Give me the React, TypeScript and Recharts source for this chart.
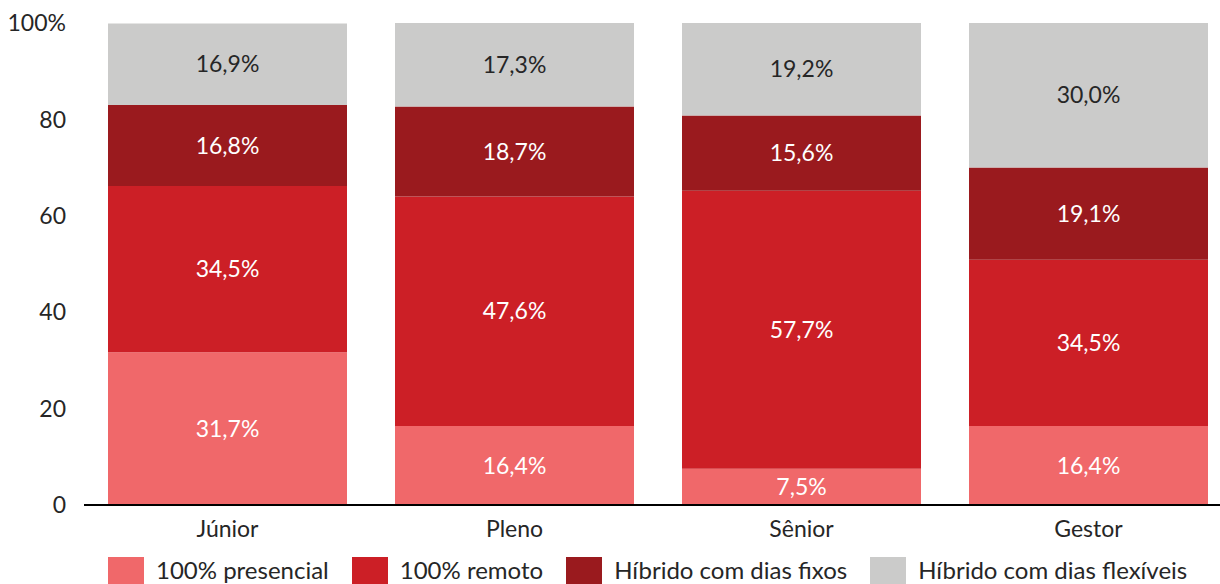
import { Bar, BarChart, LabelList, XAxis, YAxis } from "recharts";

const categories = ["Júnior", "Pleno", "Sênior", "Gestor"];
const presencial = [31.7, 16.4, 7.5, 16.4];
const remoto = [34.5, 47.6, 57.7, 34.5];
const fixos = [16.8, 18.7, 15.6, 19.1];
const flexiveis = [16.9, 17.3, 19.2, 30.0];
const yTicks = [0, 20, 40, 60, 80, 100];

const series = [
    { key: "presencial", name: "100% presencial", color: "#f0686a", text: "#ffffff" },
    { key: "remoto", name: "100% remoto", color: "#cc1f26", text: "#ffffff" },
    { key: "fixos", name: "Híbrido com dias fixos", color: "#9a1a1e", text: "#ffffff" },
    { key: "flexiveis", name: "Híbrido com dias flexíveis", color: "#cbcbca", text: "#262626" },
];

const data = categories.map((label, i) => ({
    label,
    presencial: presencial[i],
    remoto: remoto[i],
    fixos: fixos[i],
    flexiveis: flexiveis[i],
}));

const pct = (v: any) => `${Number(v).toFixed(1).replace(".", ",")}%`;

export default function App() {
    return (
        <div
            style={{
                position: "absolute",
                left: 0,
                top: 0,
                width: 1220,
                height: 584,
                overflow: "hidden",
                background: "#fff",
                fontFamily: "Lato, sans-serif",
            }}
        >
            <BarChart
                width={1232}
                height={584}
                data={data}
                margin={{ top: 23, right: 0, bottom: 39, left: 0 }}
                barCategoryGap={24}
            >
                <XAxis
                    dataKey="label"
                    height={40}
                    tickLine={false}
                    tickSize={0}
                    tickMargin={16}
                    axisLine={{ stroke: "#000", strokeWidth: 2 }}
                    tick={{ fill: "#262626", fontSize: 23 }}
                />
                <YAxis
                    width={84}
                    domain={[0, 100]}
                    ticks={yTicks}
                    axisLine={false}
                    tickLine={false}
                    tickSize={0}
                    tickMargin={18}
                    tick={{ fill: "#262626", fontSize: 23 }}
                    tickFormatter={(v) => (v === 100 ? "100%" : String(v))}
                />
                {series.map((s) => (
                    <Bar key={s.key} dataKey={s.key} name={s.name} stackId="a" fill={s.color} isAnimationActive={false}>
                        <LabelList dataKey={s.key} position="center" fill={s.text} fontSize={23} formatter={pct} />
                    </Bar>
                ))}
            </BarChart>
            <div style={{ position: "absolute", left: 108, top: 557, display: "flex", alignItems: "flex-start" }}>
                {series.map((s) => (
                    <div key={s.key} style={{ display: "flex", alignItems: "flex-start", marginRight: 23 }}>
                        <div style={{ width: 36, height: 36, background: s.color, marginRight: 12 }} />
                        <span style={{ fontSize: 24, lineHeight: "24px", marginTop: 1, color: "#262626", whiteSpace: "nowrap" }}>
                            {s.name}
                        </span>
                    </div>
                ))}
            </div>
        </div>
    );
}
